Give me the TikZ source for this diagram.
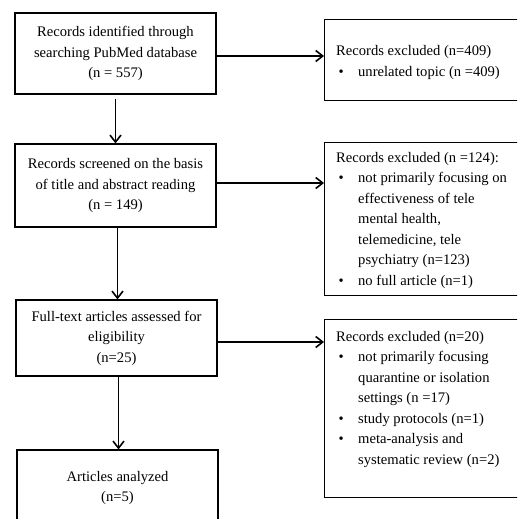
\documentclass[tikz,border=0pt]{standalone}
\usepackage{fontspec}
\setmainfont{Liberation Serif}
\usetikzlibrary{arrows.meta}
\newcommand\bul{\hspace*{2.5pt}\makebox[19.5pt][l]{\textbullet}}
\newcommand\ind{\hspace*{22pt}}
\begin{document}
\begin{tikzpicture}[x=1pt,y=-1pt,
 box/.style={draw=black, line width=1.2pt, inner sep=0pt, rectangle},
 txt/.style={font=\fontsize{14.6}{20.5}\selectfont, align=center, inner sep=0pt},
 ltxt/.style={font=\fontsize{14.6}{20.5}\selectfont, align=left, inner sep=0pt, anchor=west},
 arr/.style={line width=1.6pt, -{Straight Barb[length=7pt,width=11pt,line width=1.6pt]}}]
\useasboundingbox (0,0) rectangle (517,519);
\clip (0,0) rectangle (517,519);
% left column
\node[box, txt, minimum width=201pt, minimum height=81pt] (b1) at (115.5,53.5)
  {Records identified through\\searching PubMed database\\(n = 557)};
\node[box, txt, minimum width=201pt, minimum height=83pt] (b2) at (115.5,185.5)
  {Records screened on the basis\\of title and abstract reading\\(n = 149)};
\node[box, txt, minimum width=201pt, minimum height=76pt] (b3) at (116.5,338)
  {Full-text articles assessed for\\eligibility\\(n=25)};
\node[box, txt, minimum width=201pt, minimum height=76pt] (b4) at (117.5,488)
  {Articles analyzed\\(n=5)};
% right column boxes
\node[box, minimum width=220pt, minimum height=81pt, anchor=north west] (e1) at (324,19) {};
\node[box, minimum width=220pt, minimum height=153pt, anchor=north west] (e2) at (324,142) {};
\node[box, minimum width=220pt, minimum height=178pt, anchor=north west] (e3) at (324,319) {};
% right column texts
\node[ltxt] (t1) at (336,62.5)
  {Records excluded (n=409)\\\bul unrelated topic (n =409)};
\node[ltxt] (t2) at (336,220)
  {Records excluded (n =124):\\
   \bul not primarily focusing on\\
   \ind effectiveness of tele\\
   \ind mental health,\\
   \ind telemedicine, tele\\
   \ind psychiatry (n=123)\\
   \bul no full article (n=1)};
\node[ltxt] (t3) at (336,399.5)
  {Records excluded (n=20)\\
   \bul not primarily focusing\\
   \ind quarantine or isolation\\
   \ind settings (n =17)\\
   \bul study protocols (n=1)\\
   \bul meta-analysis and\\
   \ind systematic review (n=2)};
% vertical arrows
\coordinate (v1) at ([yshift=-4pt]b1.south);
\draw[arr] (v1) -- (v1 |- b2.north);
\coordinate (v2) at ([xshift=2pt]b2.south);
\draw[arr] (v2) -- (v2 |- b3.north);
\coordinate (v3) at ([xshift=2pt]b3.south);
\draw[arr] (v3) -- (v3 |- b4.north);
% horizontal arrows
\coordinate (h1) at ([yshift=-2.5pt]b1.east);
\draw[arr] (h1) -- (h1 -| e1.west);
\coordinate (h2) at ([yshift=2.5pt]b2.east);
\draw[arr] (h2) -- (h2 -| e2.west);
\coordinate (h3) at ([yshift=-4pt]b3.east);
\draw[arr] (h3) -- (h3 -| e3.west);
\end{tikzpicture}
\end{document}
